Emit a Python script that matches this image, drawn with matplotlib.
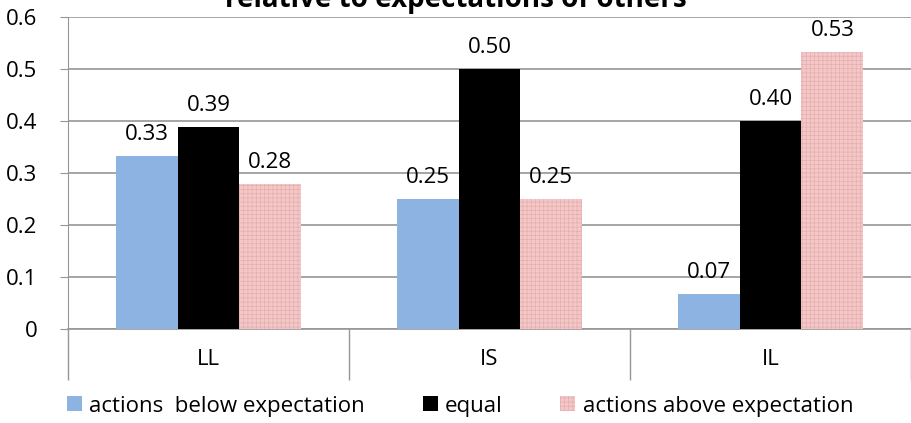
import numpy as np
import matplotlib.pyplot as plt

plt.rcParams['font.family'] = ['Open Sans', 'DejaVu Sans']
plt.rcParams['hatch.linewidth'] = 0.5

categories = ['LL', 'IS', 'IL']
series_names = ['actions  below expectation', 'equal', 'actions above expectation']
below = [0.333, 0.25, 0.067]
equal = [0.389, 0.50, 0.40]
above = [0.278, 0.25, 0.533]
labels_below = ['0.33', '0.25', '0.07']
labels_equal = ['0.39', '0.50', '0.40']
labels_above = ['0.28', '0.25', '0.53']
yticks = [0, 0.1, 0.2, 0.3, 0.4, 0.5, 0.6]
ytick_labels = ['0', '0.1', '0.2', '0.3', '0.4', '0.5', '0.6']

FS = 16

fig = plt.figure(figsize=(9.11, 4.23), dpi=100)
ax = fig.add_axes([68 / 911, 94 / 423, 843 / 911, 312 / 423])

x = np.arange(len(categories))
w = 0.22
grey = '#969696'

b1 = ax.bar(x - w, below, w, color='#8db3e2', label=series_names[0], zorder=3)
b2 = ax.bar(x, equal, w, color='black', label=series_names[1], zorder=3)
b3 = ax.bar(x + w, above, w, facecolor='#f4c8c8', edgecolor='#e6adad', linewidth=0,
            hatch='++++', label=series_names[2], zorder=3)

for bars, labs in [(b1, labels_below), (b2, labels_equal), (b3, labels_above)]:
    for rect, lab in zip(bars, labs):
        ax.annotate(lab, (rect.get_x() + rect.get_width() / 2, rect.get_height()),
                    xytext=(0, 8), textcoords='offset points', ha='center', va='bottom',
                    fontsize=FS)

ax.set_xlim(-0.5, 2.5)
ax.set_ylim(0, 0.6)
ax.set_yticks(yticks)
ax.set_yticklabels(ytick_labels, fontsize=FS)
ax.tick_params(axis='y', length=6, color=grey, pad=16)
ax.yaxis.grid(True, color=grey, linewidth=1.2, zorder=0)
ax.set_axisbelow(True)

# category separators below the axis
ax.set_xticks([-0.5, 0.5, 1.5, 2.5])
ax.set_xticklabels([])
ax.tick_params(axis='x', length=37, color=grey, width=1)
for xi, cat in zip(x, categories):
    ax.text(xi, -0.058, cat, ha='center', va='center', fontsize=FS)

for s in ['top', 'right']:
    ax.spines[s].set_visible(False)
ax.spines['left'].set_color(grey)
ax.spines['bottom'].set_color(grey)
ax.spines['bottom'].set_linewidth(1.2)

fig.text(0.5, 1 - 7 / 423, 'relative to expectations of others', ha='center', va='baseline',
         fontsize=20, fontweight='bold')

fig.legend(loc='center', bbox_to_anchor=(0.505, 17 / 423), ncol=3, frameon=False,
           fontsize=FS, handlelength=0.68, handleheight=0.68, columnspacing=2.6,
           handletextpad=0.32)

fig.savefig('out.png', dpi=100)
